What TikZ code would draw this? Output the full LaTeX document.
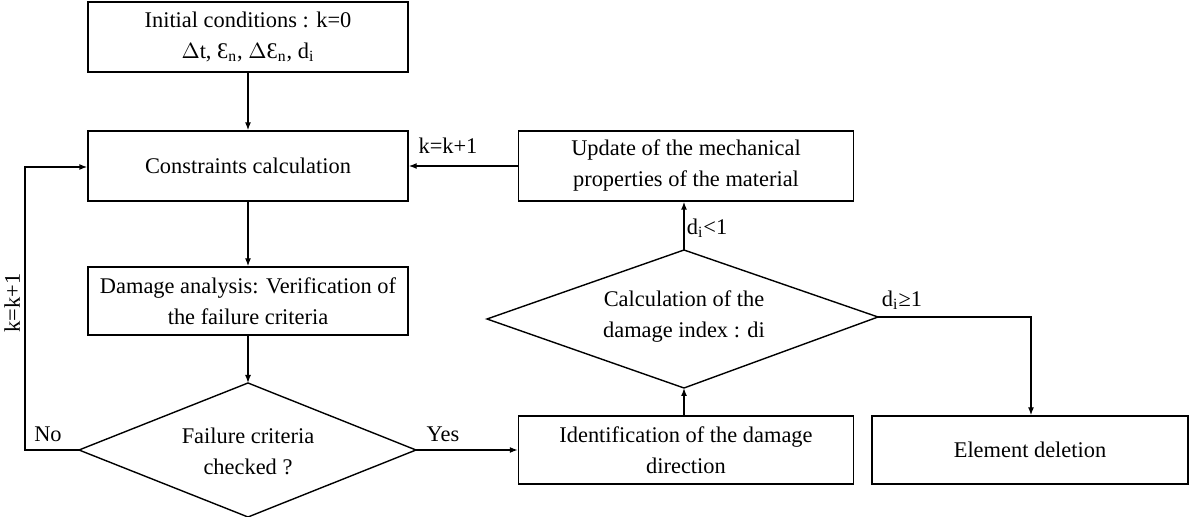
\documentclass[tikz,border=0pt]{standalone}
\usepackage{fontspec}
\setmainfont{Liberation Serif}
\usetikzlibrary{arrows.meta}
\begin{document}
\begin{tikzpicture}[x=0.5pt,y=-0.5pt,
  every node/.style={font=\fontsize{11.2}{15.5}\selectfont},
  box/.style={draw,line width=0.7pt,align=center,inner sep=0pt},
  dtext/.style={align=center,inner sep=0pt},
  lbl/.style={inner sep=0pt},
  edge/.style={line width=0.7pt},
  conn/.style={line width=0.7pt,-{Latex[length=4pt,width=3pt]}}]
\useasboundingbox (0,0) rectangle (1192,517);
\node[box,minimum width=160pt,minimum height=35pt] (init) at (248,37) {Initial conditions : k=0\\$\Delta$t, Ɛ\textsubscript{n}, $\Delta$Ɛ\textsubscript{n}, d\textsubscript{i}};
\node[box,minimum width=160pt,minimum height=35pt] (cons) at (248,166) {Constraints calculation};
\node[box,minimum width=160pt,minimum height=34pt] (dam) at (248,301) {Damage analysis: Verification of\\the failure criteria};
% failure diamond
\node[dtext] (fail) at (248,451) {Failure criteria\\checked ?};
\coordinate (failN) at (248,383);
\coordinate (failS) at (248,517);
\coordinate (failW) at (79,450);
\coordinate (failE) at (416,450);
\draw[edge] (failN) -- (failE) -- (failS) -- (failW) -- cycle;
\node[box,minimum width=167.5pt,minimum height=35pt] (upd) at (686,166) {Update of the mechanical\\properties of the material};
% calculation diamond
\node[dtext] (calc) at (684,317) {Calculation of the\\damage index : di};
\coordinate (calcN) at (684,250);
\coordinate (calcS) at (684,388);
\coordinate (calcW) at (487,319);
\coordinate (calcE) at (878,317);
\draw[edge] (calcN) -- (calcE) -- (calcS) -- (calcW) -- cycle;
\node[box,minimum width=167.5pt,minimum height=34pt] (ident) at (686,450) {Identification of the damage\\direction};
\node[box,minimum width=158pt,minimum height=34pt] (del) at (1030,450) {Element deletion};
\coordinate (loopB) at (25,450);
\coordinate (loopT) at (25,167);
\coordinate (corner) at (1031,317);
\draw[conn] (init.south) -- (cons.north);
\draw[conn] (cons.south) -- (dam.north);
\draw[conn] (dam.south) -- (failN);
\draw[conn] (failW) -- (loopB) -- (loopT) -- (cons.west |- loopT);
\draw[conn] (failE) -- (ident.west);
\draw[conn] (ident.north -| calcS) -- (calcS);
\draw[conn] (calcN) -- (calcN |- upd.south);
\draw[conn] (upd.west) -- (cons.east);
\draw[conn] (calcE) -- (corner) -- (del.north -| corner);
\node[lbl] (no) at (48,434) {No};
\node[lbl] (yes) at (443,434) {Yes};
\node[lbl] (kup) at (448,146) {k=k+1};
\node[lbl,rotate=90] (kleft) at (12,303) {k=k+1};
\node[lbl] (dlt) at (707,228) {d\textsubscript{i}<1};
\node[lbl] (dge) at (902,300) {d\textsubscript{i}≥1};
\end{tikzpicture}
\end{document}
